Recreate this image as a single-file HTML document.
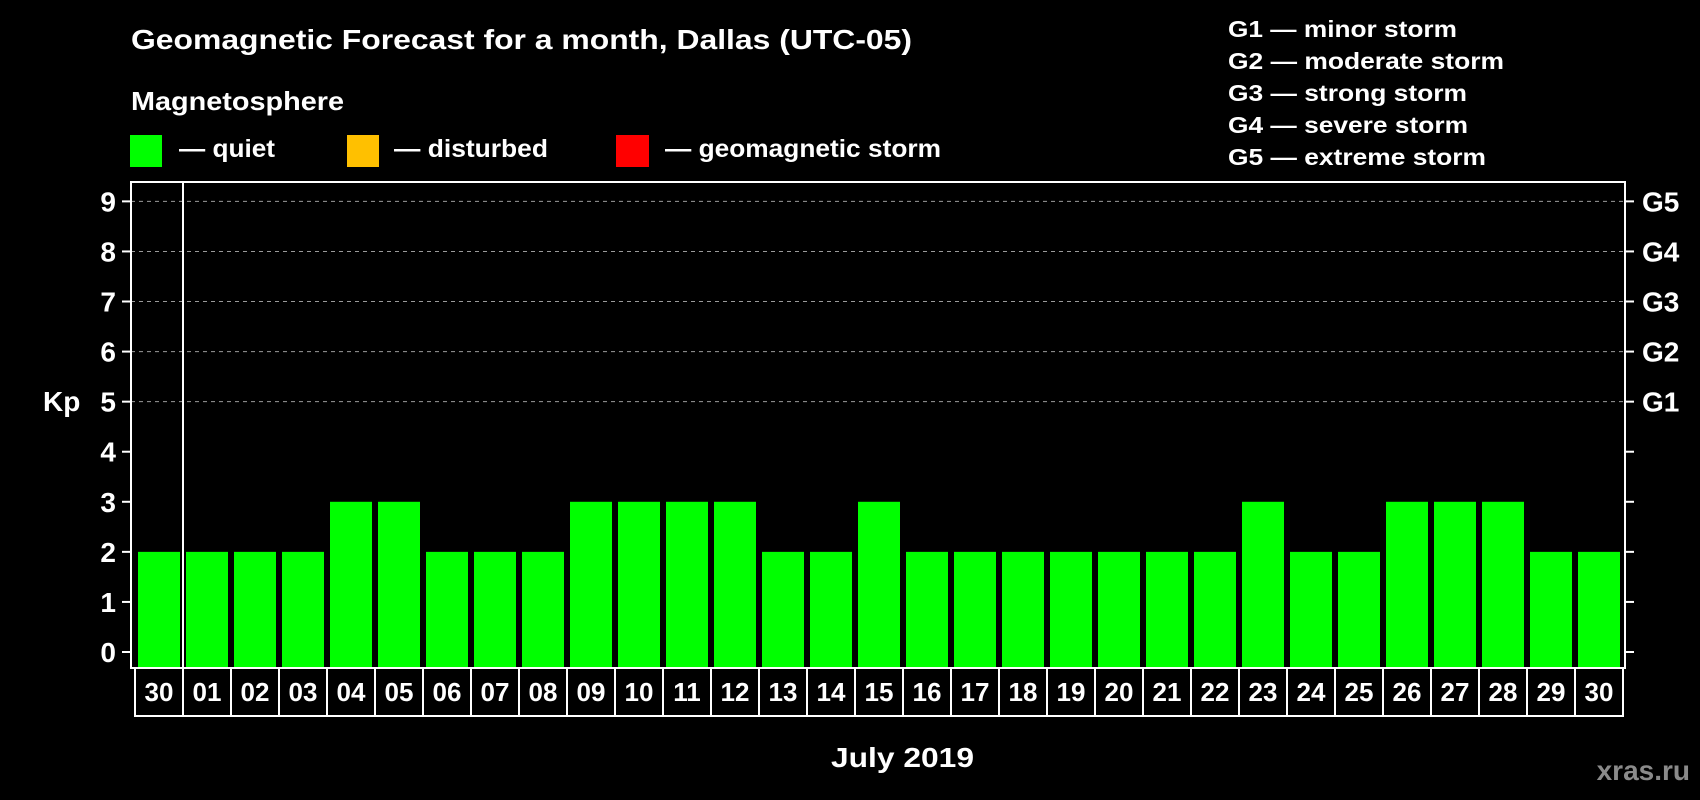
<!DOCTYPE html>
<html><head><meta charset="utf-8"><style>
html,body{margin:0;padding:0;background:#000;}
svg{display:block;font-family:"Liberation Sans",Arial,sans-serif;font-weight:bold;}
</style></head><body>
<svg id="chart" width="1700" height="800" viewBox="0 0 1700 800" xmlns="http://www.w3.org/2000/svg">
<rect width="1700" height="800" fill="#000"/>
<text x="131" y="49" fill="#fff" font-size="28" textLength="781" lengthAdjust="spacingAndGlyphs">Geomagnetic Forecast for a month, Dallas (UTC-05)</text>
<text x="131" y="110" fill="#fff" font-size="26" textLength="213" lengthAdjust="spacingAndGlyphs">Magnetosphere</text>
<rect x="130" y="135" width="32" height="32" fill="#00ff00"/>
<text x="179" y="157" fill="#fff" font-size="25" textLength="96" lengthAdjust="spacingAndGlyphs">— quiet</text>
<rect x="347" y="135" width="32" height="32" fill="#ffc000"/>
<text x="394" y="157" fill="#fff" font-size="25" textLength="154" lengthAdjust="spacingAndGlyphs">— disturbed</text>
<rect x="616" y="135" width="33" height="32" fill="#ff0000"/>
<text x="665" y="157" fill="#fff" font-size="25" textLength="276" lengthAdjust="spacingAndGlyphs">— geomagnetic storm</text>
<g fill="#fff" font-size="23">
<text x="1228" y="37" textLength="229" lengthAdjust="spacingAndGlyphs">G1 — minor storm</text>
<text x="1228" y="69" textLength="276" lengthAdjust="spacingAndGlyphs">G2 — moderate storm</text>
<text x="1228" y="101" textLength="239" lengthAdjust="spacingAndGlyphs">G3 — strong storm</text>
<text x="1228" y="133" textLength="240" lengthAdjust="spacingAndGlyphs">G4 — severe storm</text>
<text x="1228" y="165" textLength="258" lengthAdjust="spacingAndGlyphs">G5 — extreme storm</text>
</g>
<text x="43" y="411" fill="#fff" font-size="28">Kp</text>
<text x="831" y="767" fill="#fff" font-size="28" textLength="143" lengthAdjust="spacingAndGlyphs">July 2019</text>
<text x="1690" y="780" fill="#8a8a8a" font-size="28" text-anchor="end">xras.ru</text>
<g id="grid"></g><g id="bars"></g><g id="axes"></g><g id="xlabels"></g>
</svg>
<script>
const days = ["30","01","02","03","04","05","06","07","08","09","10","11","12","13","14","15","16","17","18","19","20","21","22","23","24","25","26","27","28","29","30"];
const kpValues = [2,2,2,2,3,3,2,2,2,3,3,3,3,2,2,3,2,2,2,2,2,2,2,3,2,2,3,3,3,2,2];
const yTicks = [0,1,2,3,4,5,6,7,8,9];
const gLabels = ["","","","","","G1","G2","G3","G4","G5"];
const NS = "http://www.w3.org/2000/svg";
const L = 131, R = 1625, T = 182, B = 668, BOXB = 716;
const y0 = 652, unit = 50.07;
const yScale = v => y0 - v * unit;
const pitch = 48, x0 = 138, bw = 42;
const xScale = i => x0 + i * pitch;
function mk(tag, parent, attrs) { const e = document.createElementNS(NS, tag); for (const k in attrs) e.setAttribute(k, attrs[k]); parent.appendChild(e); return e; }
const grid = document.getElementById('grid'), bars = document.getElementById('bars'), axes = document.getElementById('axes'), xl = document.getElementById('xlabels');
yTicks.forEach((t, i) => {
  const y = yScale(t);
  if (t >= 5) {
    const g = mk('line', grid, {x1: L, x2: R, y1: y, y2: y, stroke: '#9a9a9a', 'stroke-width': 1, 'stroke-dasharray': '4,4'});
    
    
  }
  const tl = mk('line', axes, {x1: L - 9, x2: L, y1: y, y2: y, stroke: '#fff', 'stroke-width': 2});
  
  
  const tr = mk('line', axes, {x1: R, x2: R + 9, y1: y, y2: y, stroke: '#fff', 'stroke-width': 2});
  
  
  const lb = mk('text', axes, {x: 116, y: y + 10, fill: '#fff', 'font-size': 28, 'text-anchor': 'end'});
  lb.textContent = t;
  
  
  if (gLabels[i]) {
    const gl = mk('text', axes, {x: 1642, y: y + 10, fill: '#fff', 'font-size': 28});
    gl.textContent = gLabels[i];
    
    
  }
});
kpValues.forEach((v, i) => {
  const color = v >= 5 ? '#ff0000' : (v >= 4 ? '#ffc000' : '#00ff00');
  const r = mk('rect', bars, {x: xScale(i), y: yScale(v), width: bw, height: B - yScale(v), fill: color});
  
  
});
const frame = mk('rect', axes, {x: L, y: T, width: R - L, height: B - T, fill: 'none', stroke: '#fff', 'stroke-width': 2});


const sep = mk('line', axes, {x1: 183, x2: 183, y1: T, y2: B, stroke: '#fff', 'stroke-width': 2});


const box = mk('rect', xl, {x: 135, y: B, width: 1623 - 135, height: BOXB - B, fill: 'none', stroke: '#fff', 'stroke-width': 2});


days.forEach((d, i) => {
  const cx = xScale(i) + bw / 2;
  if (i > 0) {
    const s = mk('line', xl, {x1: cx - pitch / 2, x2: cx - pitch / 2, y1: B, y2: BOXB, stroke: '#fff', 'stroke-width': 2});
    
    
  }
  const t = mk('text', xl, {x: cx, y: 701, fill: '#fff', 'font-size': 26, 'text-anchor': 'middle'});
  t.textContent = d;
  
  
});
</script>
</body></html>
